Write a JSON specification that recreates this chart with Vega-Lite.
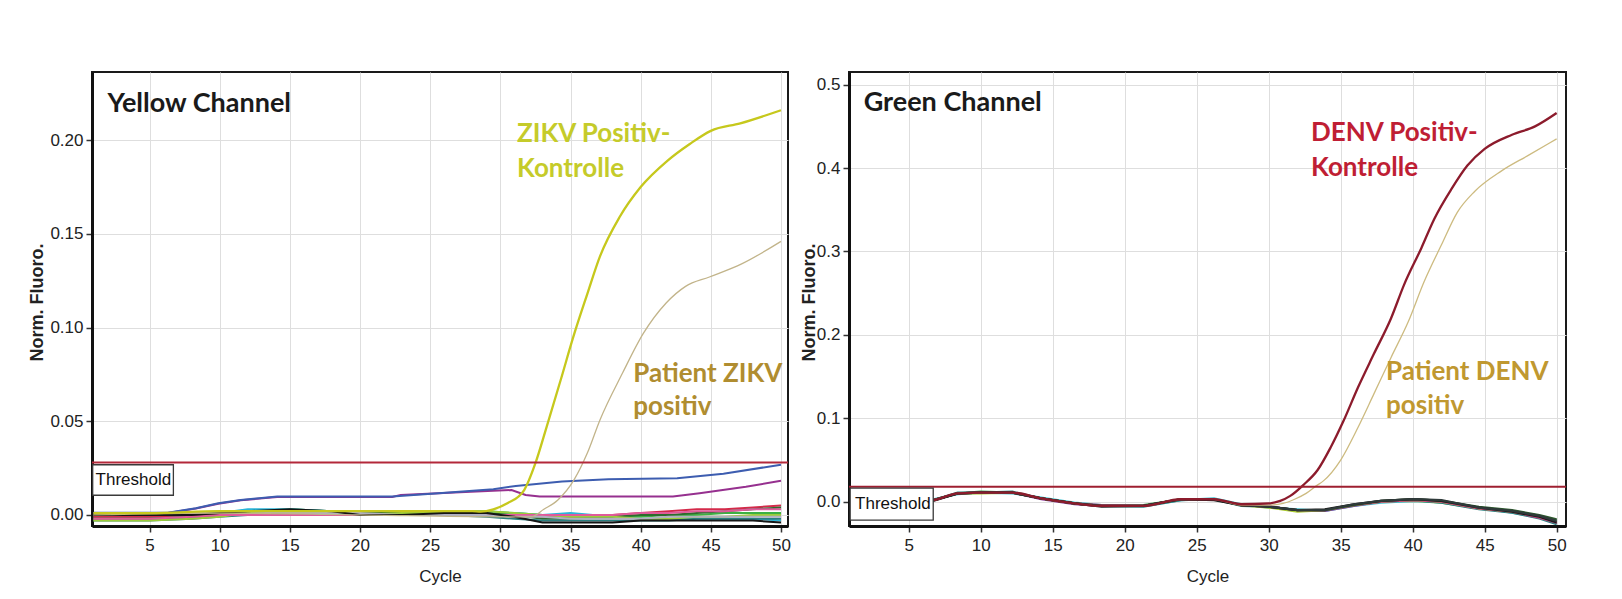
{
  "$schema": "https://vega.github.io/schema/vega-lite/v6.json",
  "background": "white",
  "padding": {"left": 27, "top": 71, "right": 50, "bottom": 5},
  "autosize": {"type": "pad"},
  "spacing": 61,
  "bounds": "flush",
  "resolve": {"scale": {"color": "independent"}},
  "config": {
    "view": {"stroke": "#1a1a1a", "strokeWidth": 2},
    "axis": {"domainColor": "#111", "domainWidth": 3, "tickColor": "#333", "tickWidth": 1.5, "tickSize": 6, "grid": true, "gridColor": "#dedede", "gridWidth": 1, "labelFont": "Liberation Sans", "labelFontSize": 17, "labelColor": "#222", "titleFont": "Liberation Sans", "titleColor": "#222", "labelFlush": false, "labelOverlap": false}
  },
  "datasets": {
    "L": [
      {"s":"N1","c":1,"v":-0.001},{"s":"N1","c":5,"v":-0.001},{"s":"N1","c":8,"v":0.000},{"s":"N1","c":10,"v":0.001},{"s":"N1","c":12,"v":0.002},{"s":"N1","c":15,"v":0.003},{"s":"N1","c":18,"v":0.002},{"s":"N1","c":20,"v":0.002},{"s":"N1","c":23,"v":0.001},{"s":"N1","c":26,"v":0.002},{"s":"N1","c":29,"v":0.002},{"s":"N1","c":31,"v":0.001},{"s":"N1","c":33,"v":0.000},{"s":"N1","c":35,"v":-0.001},{"s":"N1","c":38,"v":-0.001},{"s":"N1","c":40,"v":-0.001},{"s":"N1","c":42,"v":0.000},{"s":"N1","c":44,"v":0.000},{"s":"N1","c":46,"v":0.001},{"s":"N1","c":48,"v":0.001},{"s":"N1","c":50,"v":0.001},
      {"s":"N2","c":1,"v":-0.002},{"s":"N2","c":5,"v":-0.002},{"s":"N2","c":8,"v":0.000},{"s":"N2","c":10,"v":0.001},{"s":"N2","c":12,"v":0.003},{"s":"N2","c":15,"v":0.003},{"s":"N2","c":18,"v":0.002},{"s":"N2","c":20,"v":0.001},{"s":"N2","c":23,"v":0.001},{"s":"N2","c":26,"v":0.002},{"s":"N2","c":29,"v":0.001},{"s":"N2","c":31,"v":0.001},{"s":"N2","c":33,"v":0.000},{"s":"N2","c":35,"v":0.001},{"s":"N2","c":38,"v":-0.001},{"s":"N2","c":40,"v":-0.002},{"s":"N2","c":42,"v":-0.002},{"s":"N2","c":44,"v":-0.002},{"s":"N2","c":46,"v":-0.002},{"s":"N2","c":48,"v":-0.002},{"s":"N2","c":50,"v":-0.003},
      {"s":"N4","c":1,"v":-0.001},{"s":"N4","c":5,"v":-0.001},{"s":"N4","c":8,"v":0.000},{"s":"N4","c":10,"v":0.000},{"s":"N4","c":12,"v":0.001},{"s":"N4","c":15,"v":0.001},{"s":"N4","c":18,"v":0.001},{"s":"N4","c":20,"v":0.001},{"s":"N4","c":23,"v":0.000},{"s":"N4","c":26,"v":0.000},{"s":"N4","c":29,"v":0.000},{"s":"N4","c":31,"v":0.000},{"s":"N4","c":33,"v":-0.001},{"s":"N4","c":35,"v":-0.001},{"s":"N4","c":38,"v":0.000},{"s":"N4","c":40,"v":0.001},{"s":"N4","c":42,"v":0.002},{"s":"N4","c":44,"v":0.003},{"s":"N4","c":46,"v":0.003},{"s":"N4","c":48,"v":0.004},{"s":"N4","c":50,"v":0.005},
      {"s":"N5","c":1,"v":-0.002},{"s":"N5","c":5,"v":-0.002},{"s":"N5","c":8,"v":-0.001},{"s":"N5","c":10,"v":0.000},{"s":"N5","c":12,"v":0.001},{"s":"N5","c":15,"v":0.002},{"s":"N5","c":18,"v":0.002},{"s":"N5","c":20,"v":0.001},{"s":"N5","c":23,"v":0.001},{"s":"N5","c":26,"v":0.001},{"s":"N5","c":29,"v":0.001},{"s":"N5","c":31,"v":0.000},{"s":"N5","c":33,"v":-0.002},{"s":"N5","c":35,"v":-0.002},{"s":"N5","c":38,"v":-0.001},{"s":"N5","c":40,"v":0.000},{"s":"N5","c":42,"v":0.000},{"s":"N5","c":44,"v":0.001},{"s":"N5","c":46,"v":0.002},{"s":"N5","c":48,"v":0.003},{"s":"N5","c":50,"v":0.004},
      {"s":"N6","c":1,"v":-0.003},{"s":"N6","c":5,"v":-0.003},{"s":"N6","c":8,"v":-0.002},{"s":"N6","c":10,"v":-0.001},{"s":"N6","c":12,"v":0.000},{"s":"N6","c":15,"v":0.001},{"s":"N6","c":18,"v":0.001},{"s":"N6","c":20,"v":0.000},{"s":"N6","c":23,"v":0.000},{"s":"N6","c":26,"v":0.000},{"s":"N6","c":29,"v":-0.001},{"s":"N6","c":31,"v":-0.002},{"s":"N6","c":33,"v":-0.003},{"s":"N6","c":35,"v":-0.003},{"s":"N6","c":38,"v":-0.003},{"s":"N6","c":40,"v":-0.003},{"s":"N6","c":42,"v":-0.003},{"s":"N6","c":44,"v":-0.002},{"s":"N6","c":46,"v":-0.002},{"s":"N6","c":48,"v":-0.002},{"s":"N6","c":50,"v":-0.002},
      {"s":"N7","c":1,"v":-0.003},{"s":"N7","c":5,"v":-0.003},{"s":"N7","c":8,"v":-0.002},{"s":"N7","c":10,"v":-0.001},{"s":"N7","c":12,"v":0.001},{"s":"N7","c":15,"v":0.002},{"s":"N7","c":18,"v":0.002},{"s":"N7","c":20,"v":0.000},{"s":"N7","c":23,"v":0.001},{"s":"N7","c":26,"v":0.001},{"s":"N7","c":29,"v":0.002},{"s":"N7","c":31,"v":0.001},{"s":"N7","c":33,"v":0.000},{"s":"N7","c":35,"v":-0.001},{"s":"N7","c":38,"v":-0.001},{"s":"N7","c":40,"v":-0.002},{"s":"N7","c":42,"v":-0.002},{"s":"N7","c":44,"v":-0.001},{"s":"N7","c":46,"v":-0.001},{"s":"N7","c":48,"v":0.000},{"s":"N7","c":50,"v":0.000},
      {"s":"N8","c":1,"v":-0.002},{"s":"N8","c":5,"v":-0.002},{"s":"N8","c":8,"v":-0.001},{"s":"N8","c":10,"v":0.000},{"s":"N8","c":12,"v":0.000},{"s":"N8","c":15,"v":0.000},{"s":"N8","c":18,"v":0.000},{"s":"N8","c":20,"v":0.000},{"s":"N8","c":23,"v":0.000},{"s":"N8","c":26,"v":0.000},{"s":"N8","c":29,"v":0.000},{"s":"N8","c":31,"v":0.000},{"s":"N8","c":33,"v":0.000},{"s":"N8","c":35,"v":0.000},{"s":"N8","c":38,"v":0.000},{"s":"N8","c":40,"v":0.001},{"s":"N8","c":42,"v":0.001},{"s":"N8","c":44,"v":0.002},{"s":"N8","c":46,"v":0.002},{"s":"N8","c":48,"v":0.003},{"s":"N8","c":50,"v":0.003},
      {"s":"N9","c":1,"v":0.000},{"s":"N9","c":5,"v":0.000},{"s":"N9","c":8,"v":0.001},{"s":"N9","c":10,"v":0.002},{"s":"N9","c":12,"v":0.002},{"s":"N9","c":15,"v":0.001},{"s":"N9","c":18,"v":0.001},{"s":"N9","c":20,"v":0.001},{"s":"N9","c":23,"v":0.000},{"s":"N9","c":26,"v":0.000},{"s":"N9","c":29,"v":0.000},{"s":"N9","c":31,"v":-0.001},{"s":"N9","c":33,"v":-0.001},{"s":"N9","c":35,"v":-0.002},{"s":"N9","c":38,"v":-0.002},{"s":"N9","c":40,"v":-0.002},{"s":"N9","c":42,"v":-0.001},{"s":"N9","c":44,"v":-0.001},{"s":"N9","c":46,"v":-0.001},{"s":"N9","c":48,"v":-0.001},{"s":"N9","c":50,"v":-0.001},
      {"s":"N3","c":1,"v":0.000},{"s":"N3","c":5,"v":0.000},{"s":"N3","c":8,"v":0.000},{"s":"N3","c":10,"v":0.001},{"s":"N3","c":12,"v":0.002},{"s":"N3","c":15,"v":0.003},{"s":"N3","c":18,"v":0.002},{"s":"N3","c":20,"v":0.000},{"s":"N3","c":23,"v":0.000},{"s":"N3","c":26,"v":0.001},{"s":"N3","c":29,"v":0.001},{"s":"N3","c":31,"v":-0.001},{"s":"N3","c":33,"v":-0.004},{"s":"N3","c":35,"v":-0.004},{"s":"N3","c":38,"v":-0.004},{"s":"N3","c":40,"v":-0.003},{"s":"N3","c":42,"v":-0.003},{"s":"N3","c":44,"v":-0.003},{"s":"N3","c":46,"v":-0.003},{"s":"N3","c":48,"v":-0.003},{"s":"N3","c":50,"v":-0.004},
      {"s":"Purple","c":1,"v":0.0010},{"s":"Purple","c":6.3,"v":0.0010},{"s":"Purple","c":8.3,"v":0.0034},{"s":"Purple","c":9.9,"v":0.0060},{"s":"Purple","c":11.5,"v":0.0078},{"s":"Purple","c":14.1,"v":0.0096},{"s":"Purple","c":22.3,"v":0.0096},{"s":"Purple","c":22.9,"v":0.0107},{"s":"Purple","c":27.9,"v":0.0124},{"s":"Purple","c":30.8,"v":0.0133},{"s":"Purple","c":31.8,"v":0.0107},{"s":"Purple","c":32.8,"v":0.0098},{"s":"Purple","c":42.3,"v":0.0098},{"s":"Purple","c":44.2,"v":0.0116},{"s":"Purple","c":47.5,"v":0.015},{"s":"Purple","c":50,"v":0.0183},
      {"s":"Blue","c":1,"v":0.0012},{"s":"Blue","c":6.3,"v":0.0012},{"s":"Blue","c":8.3,"v":0.0036},{"s":"Blue","c":9.9,"v":0.0062},{"s":"Blue","c":11.5,"v":0.008},{"s":"Blue","c":14.1,"v":0.0098},{"s":"Blue","c":22.3,"v":0.0098},{"s":"Blue","c":25.6,"v":0.0116},{"s":"Blue","c":29.5,"v":0.0137},{"s":"Blue","c":31.1,"v":0.0155},{"s":"Blue","c":34.4,"v":0.0178},{"s":"Blue","c":37.7,"v":0.019},{"s":"Blue","c":42.6,"v":0.0196},{"s":"Blue","c":45.9,"v":0.022},{"s":"Blue","c":50,"v":0.0268},
      {"s":"PatZ","c":1,"v":0.000},{"s":"PatZ","c":10,"v":0.001},{"s":"PatZ","c":20,"v":0.000},{"s":"PatZ","c":30,"v":-0.001},{"s":"PatZ","c":32.2,"v":-0.001},{"s":"PatZ","c":33.1,"v":0.003},{"s":"PatZ","c":34.1,"v":0.008},{"s":"PatZ","c":35.25,"v":0.0187},{"s":"PatZ","c":36.2,"v":0.033},{"s":"PatZ","c":37.1,"v":0.0507},{"s":"PatZ","c":38.7,"v":0.0756},{"s":"PatZ","c":40.2,"v":0.097},{"s":"PatZ","c":41.8,"v":0.113},{"s":"PatZ","c":43.2,"v":0.122},{"s":"PatZ","c":44.9,"v":0.127},{"s":"PatZ","c":47.2,"v":0.134},{"s":"PatZ","c":50,"v":0.146},
      {"s":"ZIKV","c":1,"v":0.001},{"s":"ZIKV","c":5,"v":0.001},{"s":"ZIKV","c":10,"v":0.002},{"s":"ZIKV","c":15,"v":0.002},{"s":"ZIKV","c":20,"v":0.002},{"s":"ZIKV","c":25,"v":0.002},{"s":"ZIKV","c":28,"v":0.002},{"s":"ZIKV","c":28.6,"v":0.0018},{"s":"ZIKV","c":29.5,"v":0.003},{"s":"ZIKV","c":30.5,"v":0.0062},{"s":"ZIKV","c":31.7,"v":0.0133},{"s":"ZIKV","c":32.5,"v":0.0276},{"s":"ZIKV","c":33.3,"v":0.047},{"s":"ZIKV","c":34.3,"v":0.072},{"s":"ZIKV","c":35.2,"v":0.095},{"s":"ZIKV","c":36.2,"v":0.118},{"s":"ZIKV","c":37.1,"v":0.138},{"s":"ZIKV","c":38.5,"v":0.159},{"s":"ZIKV","c":40,"v":0.175},{"s":"ZIKV","c":41.9,"v":0.189},{"s":"ZIKV","c":43.5,"v":0.198},{"s":"ZIKV","c":45,"v":0.205},{"s":"ZIKV","c":47.1,"v":0.209},{"s":"ZIKV","c":50,"v":0.216}
    ],
    "R": [
      {"s":"M1","c":1,"v":-0.006},{"s":"M1","c":3,"v":-0.003},{"s":"M1","c":5,"v":0.000},{"s":"M1","c":6.7,"v":0.002},{"s":"M1","c":8.4,"v":0.010},{"s":"M1","c":10,"v":0.012},{"s":"M1","c":12.2,"v":0.011},{"s":"M1","c":14.2,"v":0.004},{"s":"M1","c":16.5,"v":-0.002},{"s":"M1","c":18.4,"v":-0.005},{"s":"M1","c":21.3,"v":-0.004},{"s":"M1","c":23.9,"v":0.003},{"s":"M1","c":26.2,"v":0.003},{"s":"M1","c":28.1,"v":-0.004},{"s":"M1","c":30,"v":-0.006},{"s":"M1","c":32,"v":-0.011},{"s":"M1","c":33.9,"v":-0.010},{"s":"M1","c":35.9,"v":-0.004},{"s":"M1","c":37.8,"v":0.000},{"s":"M1","c":40.1,"v":0.001},{"s":"M1","c":42,"v":-0.001},{"s":"M1","c":44.6,"v":-0.008},{"s":"M1","c":46.9,"v":-0.011},{"s":"M1","c":48.8,"v":-0.017},{"s":"M1","c":50,"v":-0.022},
      {"s":"M2","c":1,"v":-0.005},{"s":"M2","c":3,"v":-0.002},{"s":"M2","c":5,"v":0.001},{"s":"M2","c":6.7,"v":0.003},{"s":"M2","c":8.4,"v":0.009},{"s":"M2","c":10,"v":0.011},{"s":"M2","c":12.2,"v":0.010},{"s":"M2","c":14.2,"v":0.005},{"s":"M2","c":16.5,"v":-0.001},{"s":"M2","c":18.4,"v":-0.004},{"s":"M2","c":21.3,"v":-0.005},{"s":"M2","c":23.9,"v":0.002},{"s":"M2","c":26.2,"v":0.004},{"s":"M2","c":28.1,"v":-0.003},{"s":"M2","c":30,"v":-0.007},{"s":"M2","c":32,"v":-0.009},{"s":"M2","c":33.9,"v":-0.011},{"s":"M2","c":35.9,"v":-0.005},{"s":"M2","c":37.8,"v":-0.001},{"s":"M2","c":40.1,"v":0.001},{"s":"M2","c":42,"v":0.000},{"s":"M2","c":44.6,"v":-0.007},{"s":"M2","c":46.9,"v":-0.013},{"s":"M2","c":48.8,"v":-0.019},{"s":"M2","c":50,"v":-0.023},
      {"s":"M4","c":1,"v":-0.006},{"s":"M4","c":3,"v":-0.003},{"s":"M4","c":5,"v":-0.001},{"s":"M4","c":6.7,"v":0.002},{"s":"M4","c":8.4,"v":0.010},{"s":"M4","c":10,"v":0.011},{"s":"M4","c":12.2,"v":0.011},{"s":"M4","c":14.2,"v":0.003},{"s":"M4","c":16.5,"v":-0.003},{"s":"M4","c":18.4,"v":-0.005},{"s":"M4","c":21.3,"v":-0.005},{"s":"M4","c":23.9,"v":0.003},{"s":"M4","c":26.2,"v":0.003},{"s":"M4","c":28.1,"v":-0.004},{"s":"M4","c":30,"v":-0.005},{"s":"M4","c":32,"v":-0.011},{"s":"M4","c":33.9,"v":-0.011},{"s":"M4","c":35.9,"v":-0.005},{"s":"M4","c":37.8,"v":0.000},{"s":"M4","c":40.1,"v":0.002},{"s":"M4","c":42,"v":0.000},{"s":"M4","c":44.6,"v":-0.008},{"s":"M4","c":46.9,"v":-0.012},{"s":"M4","c":48.8,"v":-0.019},{"s":"M4","c":50,"v":-0.026},
      {"s":"M5","c":1,"v":-0.006},{"s":"M5","c":3,"v":-0.003},{"s":"M5","c":5,"v":0.000},{"s":"M5","c":6.7,"v":0.002},{"s":"M5","c":8.4,"v":0.011},{"s":"M5","c":10,"v":0.011},{"s":"M5","c":12.2,"v":0.012},{"s":"M5","c":14.2,"v":0.004},{"s":"M5","c":16.5,"v":-0.002},{"s":"M5","c":18.4,"v":-0.005},{"s":"M5","c":21.3,"v":-0.006},{"s":"M5","c":23.9,"v":0.002},{"s":"M5","c":26.2,"v":0.003},{"s":"M5","c":28.1,"v":-0.005},{"s":"M5","c":30,"v":-0.006},{"s":"M5","c":32,"v":-0.010},{"s":"M5","c":33.9,"v":-0.010},{"s":"M5","c":35.9,"v":-0.004},{"s":"M5","c":37.8,"v":0.000},{"s":"M5","c":40.1,"v":0.002},{"s":"M5","c":42,"v":-0.001},{"s":"M5","c":44.6,"v":-0.009},{"s":"M5","c":46.9,"v":-0.013},{"s":"M5","c":48.8,"v":-0.020},{"s":"M5","c":50,"v":-0.027},
      {"s":"M6","c":1,"v":-0.005},{"s":"M6","c":3,"v":-0.003},{"s":"M6","c":5,"v":0.000},{"s":"M6","c":6.7,"v":0.002},{"s":"M6","c":8.4,"v":0.010},{"s":"M6","c":10,"v":0.010},{"s":"M6","c":12.2,"v":0.011},{"s":"M6","c":14.2,"v":0.004},{"s":"M6","c":16.5,"v":-0.002},{"s":"M6","c":18.4,"v":-0.005},{"s":"M6","c":21.3,"v":-0.005},{"s":"M6","c":23.9,"v":0.003},{"s":"M6","c":26.2,"v":0.003},{"s":"M6","c":28.1,"v":-0.004},{"s":"M6","c":30,"v":-0.007},{"s":"M6","c":32,"v":-0.012},{"s":"M6","c":33.9,"v":-0.010},{"s":"M6","c":35.9,"v":-0.004},{"s":"M6","c":37.8,"v":0.000},{"s":"M6","c":40.1,"v":0.002},{"s":"M6","c":42,"v":0.000},{"s":"M6","c":44.6,"v":-0.008},{"s":"M6","c":46.9,"v":-0.012},{"s":"M6","c":48.8,"v":-0.018},{"s":"M6","c":50,"v":-0.024},
      {"s":"M9","c":1,"v":-0.006},{"s":"M9","c":3,"v":-0.003},{"s":"M9","c":5,"v":0.000},{"s":"M9","c":6.7,"v":0.002},{"s":"M9","c":8.4,"v":0.010},{"s":"M9","c":10,"v":0.011},{"s":"M9","c":12.2,"v":0.011},{"s":"M9","c":14.2,"v":0.004},{"s":"M9","c":16.5,"v":-0.002},{"s":"M9","c":18.4,"v":-0.004},{"s":"M9","c":21.3,"v":-0.005},{"s":"M9","c":23.9,"v":0.003},{"s":"M9","c":26.2,"v":0.003},{"s":"M9","c":28.1,"v":-0.004},{"s":"M9","c":30,"v":-0.006},{"s":"M9","c":32,"v":-0.010},{"s":"M9","c":33.9,"v":-0.010},{"s":"M9","c":35.9,"v":-0.004},{"s":"M9","c":37.8,"v":0.000},{"s":"M9","c":40.1,"v":0.002},{"s":"M9","c":42,"v":0.000},{"s":"M9","c":44.6,"v":-0.008},{"s":"M9","c":46.9,"v":-0.012},{"s":"M9","c":48.8,"v":-0.019},{"s":"M9","c":50,"v":-0.025},
      {"s":"M7","c":1,"v":-0.006},{"s":"M7","c":3,"v":-0.003},{"s":"M7","c":5,"v":0.000},{"s":"M7","c":6.7,"v":0.002},{"s":"M7","c":8.4,"v":0.010},{"s":"M7","c":10,"v":0.011},{"s":"M7","c":12.2,"v":0.011},{"s":"M7","c":14.2,"v":0.004},{"s":"M7","c":16.5,"v":-0.002},{"s":"M7","c":18.4,"v":-0.005},{"s":"M7","c":21.3,"v":-0.005},{"s":"M7","c":23.9,"v":0.003},{"s":"M7","c":26.2,"v":0.003},{"s":"M7","c":28.1,"v":-0.004},{"s":"M7","c":30,"v":-0.006},{"s":"M7","c":32,"v":-0.010},{"s":"M7","c":33.9,"v":-0.010},{"s":"M7","c":35.9,"v":-0.004},{"s":"M7","c":37.8,"v":0.001},{"s":"M7","c":40.1,"v":0.003},{"s":"M7","c":42,"v":0.001},{"s":"M7","c":44.6,"v":-0.006},{"s":"M7","c":46.9,"v":-0.010},{"s":"M7","c":48.8,"v":-0.016},{"s":"M7","c":50,"v":-0.021},
      {"s":"M3","c":1,"v":-0.007},{"s":"M3","c":3,"v":-0.004},{"s":"M3","c":5,"v":0.000},{"s":"M3","c":6.7,"v":0.001},{"s":"M3","c":8.4,"v":0.010},{"s":"M3","c":10,"v":0.011},{"s":"M3","c":12.2,"v":0.011},{"s":"M3","c":14.2,"v":0.004},{"s":"M3","c":16.5,"v":-0.002},{"s":"M3","c":18.4,"v":-0.006},{"s":"M3","c":21.3,"v":-0.005},{"s":"M3","c":23.9,"v":0.003},{"s":"M3","c":26.2,"v":0.002},{"s":"M3","c":28.1,"v":-0.004},{"s":"M3","c":30,"v":-0.006},{"s":"M3","c":32,"v":-0.010},{"s":"M3","c":33.9,"v":-0.009},{"s":"M3","c":35.9,"v":-0.003},{"s":"M3","c":37.8,"v":0.001},{"s":"M3","c":40.1,"v":0.003},{"s":"M3","c":42,"v":0.001},{"s":"M3","c":44.6,"v":-0.007},{"s":"M3","c":46.9,"v":-0.012},{"s":"M3","c":48.8,"v":-0.018},{"s":"M3","c":50,"v":-0.025},
      {"s":"M8","c":1,"v":-0.006},{"s":"M8","c":3,"v":-0.003},{"s":"M8","c":5,"v":0.000},{"s":"M8","c":6.7,"v":0.002},{"s":"M8","c":8.4,"v":0.010},{"s":"M8","c":10,"v":0.011},{"s":"M8","c":12.2,"v":0.011},{"s":"M8","c":14.2,"v":0.004},{"s":"M8","c":16.5,"v":-0.002},{"s":"M8","c":18.4,"v":-0.005},{"s":"M8","c":21.3,"v":-0.005},{"s":"M8","c":23.9,"v":0.003},{"s":"M8","c":26.2,"v":0.003},{"s":"M8","c":28.1,"v":-0.004},{"s":"M8","c":30,"v":-0.006},{"s":"M8","c":32,"v":-0.010},{"s":"M8","c":33.9,"v":-0.010},{"s":"M8","c":35.9,"v":-0.003},{"s":"M8","c":37.8,"v":0.001},{"s":"M8","c":40.1,"v":0.003},{"s":"M8","c":42,"v":0.002},{"s":"M8","c":44.6,"v":-0.007},{"s":"M8","c":46.9,"v":-0.011},{"s":"M8","c":48.8,"v":-0.017},{"s":"M8","c":50,"v":-0.023},
      {"s":"PatD","c":1,"v":-0.006},{"s":"PatD","c":3,"v":-0.003},{"s":"PatD","c":5,"v":0.000},{"s":"PatD","c":6.7,"v":0.002},{"s":"PatD","c":8.4,"v":0.010},{"s":"PatD","c":10,"v":0.011},{"s":"PatD","c":12.2,"v":0.011},{"s":"PatD","c":14.2,"v":0.004},{"s":"PatD","c":16.5,"v":-0.002},{"s":"PatD","c":18.4,"v":-0.005},{"s":"PatD","c":21.3,"v":-0.005},{"s":"PatD","c":23.9,"v":0.003},{"s":"PatD","c":26.2,"v":0.003},{"s":"PatD","c":28.1,"v":-0.004},{"s":"PatD","c":30,"v":-0.004},{"s":"PatD","c":31,"v":-0.002},{"s":"PatD","c":31.8,"v":0.003},{"s":"PatD","c":32.6,"v":0.010},{"s":"PatD","c":33.3,"v":0.019},{"s":"PatD","c":33.8,"v":0.025},{"s":"PatD","c":35,"v":0.05},{"s":"PatD","c":36.2,"v":0.089},{"s":"PatD","c":37.3,"v":0.129},{"s":"PatD","c":38.5,"v":0.173},{"s":"PatD","c":39.7,"v":0.216},{"s":"PatD","c":40.8,"v":0.264},{"s":"PatD","c":42,"v":0.308},{"s":"PatD","c":43.1,"v":0.347},{"s":"PatD","c":44.3,"v":0.372},{"s":"PatD","c":46.2,"v":0.397},{"s":"PatD","c":48,"v":0.415},{"s":"PatD","c":50,"v":0.435},
      {"s":"DENV","c":1,"v":-0.006},{"s":"DENV","c":3,"v":-0.003},{"s":"DENV","c":5,"v":0.000},{"s":"DENV","c":6.7,"v":0.002},{"s":"DENV","c":8.4,"v":0.010},{"s":"DENV","c":10,"v":0.011},{"s":"DENV","c":12.2,"v":0.011},{"s":"DENV","c":14.2,"v":0.004},{"s":"DENV","c":16.5,"v":-0.002},{"s":"DENV","c":18.4,"v":-0.005},{"s":"DENV","c":21.3,"v":-0.005},{"s":"DENV","c":23.9,"v":0.003},{"s":"DENV","c":26.2,"v":0.003},{"s":"DENV","c":28.1,"v":-0.003},{"s":"DENV","c":30,"v":-0.002},{"s":"DENV","c":30.8,"v":0.001},{"s":"DENV","c":31.5,"v":0.007},{"s":"DENV","c":32.4,"v":0.02},{"s":"DENV","c":33.4,"v":0.038},{"s":"DENV","c":34.3,"v":0.065},{"s":"DENV","c":35.2,"v":0.097},{"s":"DENV","c":36.2,"v":0.137},{"s":"DENV","c":37.3,"v":0.177},{"s":"DENV","c":38.5,"v":0.22},{"s":"DENV","c":39.4,"v":0.26},{"s":"DENV","c":40.6,"v":0.304},{"s":"DENV","c":41.5,"v":0.339},{"s":"DENV","c":42.7,"v":0.375},{"s":"DENV","c":43.8,"v":0.403},{"s":"DENV","c":45,"v":0.423},{"s":"DENV","c":46.9,"v":0.44},{"s":"DENV","c":48.5,"v":0.45},{"s":"DENV","c":50,"v":0.466}
    ],
    "Lt": [
      {"g":"title","label":"Yellow Channel","c":2.0,"v":0.215},
      {"g":"ctrl","label":"ZIKV Positiv-","c":31.19,"v":0.1992},
      {"g":"ctrl","label":"Kontrolle","c":31.19,"v":0.1805},
      {"g":"pat","label":"Patient ZIKV","c":39.47,"v":0.0711},
      {"g":"pat","label":"positiv","c":39.47,"v":0.0534},
      {"g":"thr","label":"Threshold","c":3.85,"v":0.0187}
    ],
    "Rt": [
      {"g":"title","label":"Green Channel","c":1.87,"v":0.4685},
      {"g":"ctrl","label":"DENV Positiv-","c":32.94,"v":0.4327},
      {"g":"ctrl","label":"Kontrolle","c":32.94,"v":0.3908},
      {"g":"pat","label":"Patient DENV","c":38.15,"v":0.1456},
      {"g":"pat","label":"positiv","c":38.15,"v":0.1057},
      {"g":"thr","label":"Threshold","c":3.9,"v":-0.003}
    ],
    "Lb": [{"c":0.95,"c2":6.7,"v":0.0105,"v2":0.0268}],
    "Rb": [{"c":0.93,"c2":6.7,"v":-0.022,"v2":0.0164}],
    "Lr": [{"c":0.9,"c2":50.5,"v":0.028}],
    "Rr": [{"c":0.85,"c2":50.65,"v":0.018}]
  },
  "hconcat": [
    {
      "width": 696,
      "height": 454,
      "encoding": {
        "x": {"field": "c", "type": "quantitative", "scale": {"domain": [0.9, 50.5], "nice": false, "zero": false},
              "axis": {"values": [5,10,15,20,25,30,35,40,45,50], "title": "Cycle", "titleFontSize": 17, "titleFontWeight": "normal", "labelPadding": 5, "titleY": 50, "titleBaseline": "middle"}},
        "y": {"field": "v", "type": "quantitative", "scale": {"domain": [-0.0059, 0.2364], "nice": false, "zero": false},
              "axis": {"values": [0, 0.05, 0.1, 0.15, 0.2], "format": ".2f", "title": "Norm. Fluoro.", "titleFontSize": 18, "titleFontWeight": "bold", "titleX": -55, "titleY": 230, "titleAngle": 270, "titleAlign": "center", "titleBaseline": "middle", "labelPadding": 3}}
      },
      "layer": [
        {
          "data": {"name": "L"},
          "transform": [{"filter": {"field": "s", "oneOf": ["N1","N2","N4","N5","N6","N7","N8","N9","N3"]}}],
          "mark": {"type": "line", "strokeWidth": 2, "clip": true},
          "encoding": {
            "color": {"field": "s", "type": "nominal", "legend": null,
                      "scale": {"domain": ["N1","N2","N3","N4","N5","N6","N7","N8","N9","Blue","Purple","PatZ","ZIKV"],
                                "range": ["#3cb043","#2bb5d8","#151515","#d42a4a","#2e6b2e","#2a7f7f","#9ccc3a","#e05a9a","#b0b0c0","#3d5db0","#96308f","#c2b48a","#c6c81c"]}}
          }
        },
        {
          "data": {"name": "L"},
          "transform": [{"filter": {"field": "s", "oneOf": ["Purple","Blue"]}}],
          "mark": {"type": "line", "strokeWidth": 2, "clip": true},
          "encoding": {"color": {"field": "s", "type": "nominal", "legend": null}}
        },
        {
          "data": {"name": "L"},
          "transform": [{"filter": {"field": "s", "equal": "PatZ"}}],
          "mark": {"type": "line", "strokeWidth": 1.3, "interpolate": "monotone", "clip": true},
          "encoding": {"color": {"field": "s", "type": "nominal", "legend": null}}
        },
        {
          "data": {"name": "L"},
          "transform": [{"filter": {"field": "s", "equal": "ZIKV"}}],
          "mark": {"type": "line", "strokeWidth": 2.3, "interpolate": "monotone", "clip": true},
          "encoding": {"color": {"field": "s", "type": "nominal", "legend": null}}
        },
        {
          "data": {"name": "Lr"},
          "mark": {"type": "rule", "color": "#b3283a", "strokeWidth": 2},
          "encoding": {"x2": {"field": "c2"}}
        },
        {
          "data": {"name": "Lb"},
          "mark": {"type": "rect", "fill": "white", "stroke": "#3a3a3a", "strokeWidth": 1.3},
          "encoding": {"x2": {"field": "c2"}, "y2": {"field": "v2"}}
        },
        {
          "data": {"name": "Lt"},
          "transform": [{"filter": {"field": "g", "equal": "thr"}}],
          "mark": {"type": "text", "font": "Liberation Sans", "fontSize": 17, "color": "#111", "align": "center", "baseline": "middle"},
          "encoding": {"text": {"field": "label"}}
        },
        {
          "data": {"name": "Lt"},
          "transform": [{"filter": {"field": "g", "equal": "title"}}],
          "mark": {"type": "text", "font": "Lato", "fontWeight": "bold", "fontSize": 27, "color": "#1a1a1a", "align": "left", "baseline": "alphabetic"},
          "encoding": {"text": {"field": "label"}}
        },
        {
          "data": {"name": "Lt"},
          "transform": [{"filter": {"field": "g", "equal": "ctrl"}}],
          "mark": {"type": "text", "font": "Lato", "fontWeight": "bold", "fontSize": 26, "color": "#c5cb2a", "align": "left", "baseline": "alphabetic"},
          "encoding": {"text": {"field": "label"}}
        },
        {
          "data": {"name": "Lt"},
          "transform": [{"filter": {"field": "g", "equal": "pat"}}],
          "mark": {"type": "text", "font": "Lato", "fontWeight": "bold", "fontSize": 26, "color": "#b08d30", "align": "left", "baseline": "alphabetic"},
          "encoding": {"text": {"field": "label"}}
        }
      ]
    },
    {
      "width": 717,
      "height": 454,
      "encoding": {
        "x": {"field": "c", "type": "quantitative", "scale": {"domain": [0.85, 50.65], "nice": false, "zero": false},
              "axis": {"values": [5,10,15,20,25,30,35,40,45,50], "title": "Cycle", "titleFontSize": 17, "titleFontWeight": "normal", "labelPadding": 5, "titleY": 50, "titleBaseline": "middle"}},
        "y": {"field": "v", "type": "quantitative", "scale": {"domain": [-0.0291, 0.5152], "nice": false, "zero": false},
              "axis": {"values": [0, 0.1, 0.2, 0.3, 0.4, 0.5], "format": ".1f", "title": "Norm. Fluoro.", "titleFontSize": 18, "titleFontWeight": "bold", "titleX": -40, "titleY": 230, "titleAngle": 270, "titleAlign": "center", "titleBaseline": "middle", "labelPadding": 3}}
      },
      "layer": [
        {
          "data": {"name": "R"},
          "transform": [{"filter": {"field": "s", "oneOf": ["M1","M2","M4","M5","M6","M9","M7","M3","M8"]}}],
          "mark": {"type": "line", "strokeWidth": 2.2, "clip": true},
          "encoding": {
            "color": {"field": "s", "type": "nominal", "legend": null,
                      "scale": {"domain": ["M1","M2","M3","M4","M5","M6","M7","M8","M9","PatD","DENV"],
                                "range": ["#3aa04a","#3cc0d0","#1a1a1a","#8a3a9a","#2a8080","#a8c830","#2d5a2d","#2f3a3a","#d04080","#cdbb80","#8c1b2c"]}}
          }
        },
        {
          "data": {"name": "R"},
          "transform": [{"filter": {"field": "s", "equal": "PatD"}}],
          "mark": {"type": "line", "strokeWidth": 1.3, "interpolate": "monotone", "clip": true},
          "encoding": {"color": {"field": "s", "type": "nominal", "legend": null}}
        },
        {
          "data": {"name": "R"},
          "transform": [{"filter": {"field": "s", "equal": "DENV"}}],
          "mark": {"type": "line", "strokeWidth": 2.3, "interpolate": "monotone", "clip": true},
          "encoding": {"color": {"field": "s", "type": "nominal", "legend": null}}
        },
        {
          "data": {"name": "Rr"},
          "mark": {"type": "rule", "color": "#9e1f30", "strokeWidth": 2},
          "encoding": {"x2": {"field": "c2"}}
        },
        {
          "data": {"name": "Rb"},
          "mark": {"type": "rect", "fill": "white", "stroke": "#3a3a3a", "strokeWidth": 1.3},
          "encoding": {"x2": {"field": "c2"}, "y2": {"field": "v2"}}
        },
        {
          "data": {"name": "Rt"},
          "transform": [{"filter": {"field": "g", "equal": "thr"}}],
          "mark": {"type": "text", "font": "Liberation Sans", "fontSize": 17, "color": "#111", "align": "center", "baseline": "middle"},
          "encoding": {"text": {"field": "label"}}
        },
        {
          "data": {"name": "Rt"},
          "transform": [{"filter": {"field": "g", "equal": "title"}}],
          "mark": {"type": "text", "font": "Lato", "fontWeight": "bold", "fontSize": 27, "color": "#1a1a1a", "align": "left", "baseline": "alphabetic"},
          "encoding": {"text": {"field": "label"}}
        },
        {
          "data": {"name": "Rt"},
          "transform": [{"filter": {"field": "g", "equal": "ctrl"}}],
          "mark": {"type": "text", "font": "Lato", "fontWeight": "bold", "fontSize": 26, "color": "#bf1e34", "align": "left", "baseline": "alphabetic"},
          "encoding": {"text": {"field": "label"}}
        },
        {
          "data": {"name": "Rt"},
          "transform": [{"filter": {"field": "g", "equal": "pat"}}],
          "mark": {"type": "text", "font": "Lato", "fontWeight": "bold", "fontSize": 26, "color": "#c09830", "align": "left", "baseline": "alphabetic"},
          "encoding": {"text": {"field": "label"}}
        }
      ]
    }
  ]
}
